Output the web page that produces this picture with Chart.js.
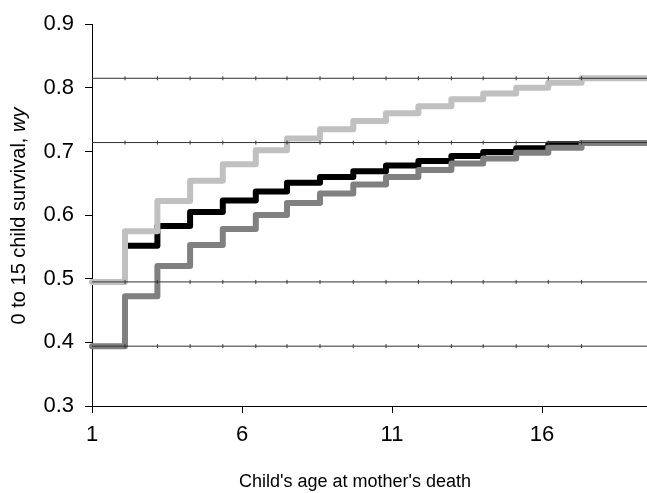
<!DOCTYPE html>
<html>
<head>
<meta charset="utf-8">
<script src="https://cdn.jsdelivr.net/npm/chart.js@4.4.1/dist/chart.umd.min.js"></script>
<style>
  html, body { margin: 0; padding: 0; background: #fff; }
  #wrap { width: 647px; height: 493px; position: relative; }
</style>
</head>
<body>
<div id="wrap"><canvas id="chart"></canvas></div>
<script>
// x positions where the curves step up (child's age)
const stepAge = [2.1, 3.18, 4.27, 5.36, 6.46, 7.5, 8.6, 9.71, 10.8, 11.88, 12.98, 14.04, 15.14, 16.21, 17.32];
const ageMin = 1, ageMax = 19.5;
const xTickValues = [1, 6, 11, 16];

// survival levels, first value before the first step
const lightGray = [0.495, 0.5745, 0.622, 0.654, 0.680, 0.702, 0.7205, 0.735, 0.748, 0.760, 0.771, 0.782, 0.791, 0.800, 0.808, 0.815];
const black = [0.552, 0.583, 0.605, 0.623, 0.637, 0.651, 0.660, 0.669, 0.678, 0.685, 0.693, 0.699, 0.705, 0.7115, 0.7135];
const darkGray = [0.394, 0.4726, 0.520, 0.553, 0.578, 0.600, 0.619, 0.634, 0.648, 0.660, 0.671, 0.681, 0.689, 0.698, 0.706, 0.7135];

// horizontal reference levels
const refLevels = [0.815, 0.714, 0.495, 0.394];

const FONT = '"Liberation Sans", Arial, sans-serif';

function stepPoints(xs, levels) {
    const pts = xs.map((x, i) => ({x: x, y: levels[i]}));
    pts.push({x: ageMax, y: levels[levels.length - 1]});
    return pts;
}

const series = (data, color, order) => ({
    data: data,
    borderColor: color,
    borderWidth: 6,
    stepped: 'before',
    pointRadius: 0,
    fill: false,
    borderJoinStyle: 'round',
    borderCapStyle: 'round',
    clip: false,
    order: order,
});

const refX = [ageMin, ...stepAge, ageMax];
const refSets = refLevels.map(v => ({
    data: refX.map(x => ({x: x, y: v})),
    borderColor: '#333',
    borderWidth: 1,
    pointStyle: 'line',
    rotation: 90,
    pointRadius: refX.map((x, i) => (i === 0 || i === refX.length - 1) ? 0 : 2),
    pointBorderColor: '#333',
    pointBorderWidth: 1,
    fill: false,
    order: 0,
}));

const titles = {
    id: 'titles',
    afterDraw(chart) {
        const ctx = chart.ctx;
        ctx.save();
        ctx.fillStyle = '#000';
        ctx.textBaseline = 'middle';
        ctx.textAlign = 'center';
        ctx.font = '18px ' + FONT;
        ctx.fillText("Child's age at mother's death", 355, 482);

        // y title with italic wy
        const plain = '0 to 15 child survival, ';
        const ital = 'wy';
        ctx.font = '20px ' + FONT;
        const w1 = ctx.measureText(plain).width;
        ctx.font = 'italic 20px ' + FONT;
        const w2 = ctx.measureText(ital).width;
        ctx.translate(19, 216);
        ctx.rotate(-Math.PI / 2);
        ctx.textAlign = 'left';
        const start = -(w1 + w2) / 2;
        ctx.font = '20px ' + FONT;
        ctx.fillText(plain, start, 0);
        ctx.font = 'italic 20px ' + FONT;
        ctx.fillText(ital, start + w1, 0);
        ctx.restore();
    }
};

new Chart(document.getElementById('chart'), {
    type: 'line',
    data: {
        datasets: [
            ...refSets,
            series(stepPoints([ageMin, ...stepAge], lightGray), '#c0c0c0', 1),
            series(stepPoints([ageMin, ...stepAge], darkGray), '#808080', 2),
            series(stepPoints(stepAge, black), '#000000', 3),
        ]
    },
    options: {
        responsive: true,
        maintainAspectRatio: false,
        animation: false,
        layout: {padding: {top: 18, right: 0, left: 0, bottom: 0}},
        plugins: {legend: {display: false}, tooltip: {enabled: false}},
        scales: {
            x: {
                type: 'linear',
                min: ageMin,
                max: ageMax,
                afterBuildTicks: (s) => { s.ticks = xTickValues.map(v => ({value: v})); },
                afterFit: (s) => { s.height = 87; },
                border: {display: true, color: '#000', width: 1},
                grid: {drawOnChartArea: false, drawTicks: true, tickLength: 7, color: '#000'},
                ticks: {color: '#000', font: {family: FONT, size: 22}, padding: 9, maxRotation: 0},
            },
            y: {
                min: 0.3,
                max: 0.9,
                afterFit: (s) => { s.width = 92; },
                border: {display: true, color: '#000', width: 1},
                grid: {drawOnChartArea: false, drawTicks: true, tickLength: 7, color: '#000'},
                ticks: {stepSize: 0.1, color: '#000', font: {family: FONT, size: 22}, padding: 11,
                        callback: v => v.toFixed(1)},
            }
        }
    },
    plugins: [titles]
});
</script>
</body>
</html>
